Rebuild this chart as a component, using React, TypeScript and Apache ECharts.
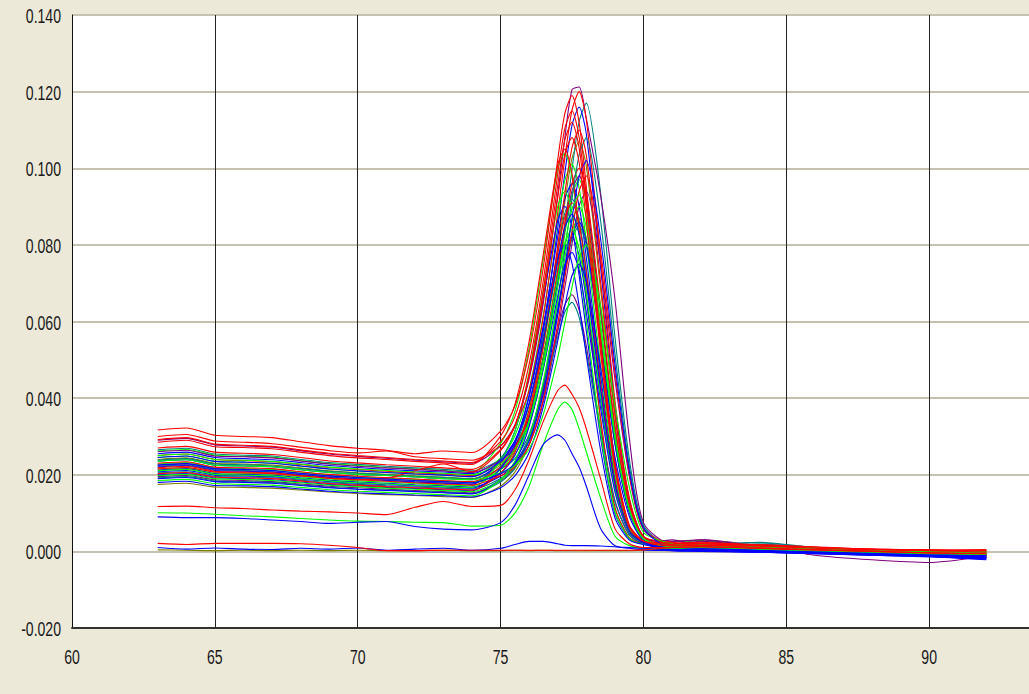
import { useEffect, useRef } from "react";
import * as echarts from "echarts";

// Melt-curve derivative traces (-dF/dT) sampled at these temperatures (°C)
const temps = [
  63, 64, 65, 66, 67, 68, 69, 70, 71, 72, 73, 74, 75, 75.5, 76, 76.5, 77, 77.25,
  77.5, 77.75, 78, 78.5, 79, 79.5, 80, 81, 82, 84, 86, 88, 90, 92,
];

// Tick labels
const xTicks = [60, 65, 70, 75, 80, 85, 90];
const yTicks = [-0.02, 0, 0.02, 0.04, 0.06, 0.08, 0.1, 0.12, 0.14];

const redCurves: number[][] = [
  [0.0317,0.0322,0.0303,0.0300,0.0297,0.0286,0.0276,0.0269,0.0264,0.0255,0.0262,0.0258,0.0314,0.0379,0.0519,0.0743,0.1022,0.1143,0.1190,0.1119,0.0952,0.0571,0.0238,0.0070,0.0028,0.0015,0.0014,0.0012,0.0006,0.0002,-0.0002,-0.0006],
  [0.0300,0.0305,0.0288,0.0285,0.0281,0.0272,0.0263,0.0257,0.0262,0.0247,0.0242,0.0238,0.0276,0.0325,0.0421,0.0613,0.0883,0.1027,0.1152,0.1200,0.1128,0.0768,0.0396,0.0142,0.0040,0.0020,0.0018,0.0015,0.0010,0.0006,0.0004,0.0002],
  [0.0285,0.0290,0.0273,0.0271,0.0268,0.0259,0.0250,0.0244,0.0240,0.0235,0.0231,0.0227,0.0301,0.0383,0.0548,0.0778,0.1009,0.1050,0.0987,0.0840,0.0672,0.0347,0.0116,0.0036,0.0021,0.0012,0.0016,0.0010,0.0008,0.0003,0.0000,-0.0004],
  [0.0250,0.0254,0.0240,0.0237,0.0234,0.0227,0.0219,0.0214,0.0209,0.0205,0.0202,0.0198,0.0230,0.0270,0.0350,0.0511,0.0735,0.0856,0.0960,0.1000,0.0940,0.0640,0.0330,0.0120,0.0035,0.0018,0.0022,0.0014,0.0008,0.0004,0.0002,0.0004],
  [0.0230,0.0234,0.0220,0.0218,0.0216,0.0208,0.0201,0.0196,0.0193,0.0189,0.0185,0.0182,0.0219,0.0265,0.0356,0.0540,0.0797,0.0935,0.1054,0.1100,0.1034,0.0704,0.0363,0.0131,0.0038,0.0024,0.0020,0.0018,0.0011,0.0005,0.0003,0.0001],
  [0.0218,0.0222,0.0209,0.0207,0.0205,0.0198,0.0191,0.0187,0.0183,0.0179,0.0176,0.0173,0.0197,0.0221,0.0278,0.0399,0.0593,0.0714,0.0835,0.0940,0.0980,0.0784,0.0470,0.0206,0.0059,0.0020,0.0024,0.0016,0.0008,0.0006,0.0003,0.0005],
  [0.0203,0.0206,0.0194,0.0192,0.0190,0.0184,0.0177,0.0173,0.0169,0.0166,0.0163,0.0160,0.0205,0.0258,0.0370,0.0550,0.0775,0.0873,0.0910,0.0855,0.0728,0.0437,0.0182,0.0056,0.0024,0.0016,0.0020,0.0013,0.0007,0.0004,0.0001,-0.0002],
  [0.0215,0.0219,0.0207,0.0205,0.0203,0.0197,0.0191,0.0187,0.0190,0.0210,0.0228,0.0208,0.0263,0.0327,0.0463,0.0682,0.0956,0.1074,0.1120,0.1053,0.0896,0.0538,0.0224,0.0066,0.0027,0.0022,0.0020,0.0014,0.0012,0.0006,0.0004,0.0002],
  [0.0270,0.0274,0.0259,0.0256,0.0253,0.0245,0.0236,0.0231,0.0226,0.0222,0.0218,0.0214,0.0266,0.0327,0.0456,0.0664,0.0924,0.1037,0.1080,0.1015,0.0864,0.0518,0.0216,0.0064,0.0026,0.0014,0.0016,0.0010,0.0004,0.0000,-0.0004,-0.0008],
  [0.0292,0.0297,0.0280,0.0277,0.0274,0.0265,0.0256,0.0250,0.0245,0.0240,0.0236,0.0232,0.0287,0.0351,0.0489,0.0709,0.0985,0.1104,0.1150,0.1081,0.0920,0.0552,0.0230,0.0068,0.0027,0.0018,0.0016,0.0014,0.0008,0.0004,0.0002,-0.0002],
  [0.0117,0.0118,0.0114,0.0112,0.0108,0.0105,0.0103,0.0100,0.0096,0.0115,0.0130,0.0117,0.0120,0.0160,0.0240,0.0340,0.0420,0.0434,0.0410,0.0375,0.0320,0.0190,0.0060,0.0020,0.0010,0.0010,0.0012,0.0008,0.0004,0.0000,-0.0004,-0.0006],
  [0.0021,0.0018,0.0021,0.0021,0.0021,0.0020,0.0016,0.0010,0.0002,0.0002,0.0003,0.0003,0.0003,0.0003,0.0003,0.0003,0.0003,0.0003,0.0003,0.0003,0.0003,0.0003,0.0003,0.0003,0.0004,0.0010,0.0012,0.0008,0.0004,0.0000,-0.0004,-0.0006],
];

const greenCurves: number[][] = [
  [0.0262,0.0266,0.0251,0.0248,0.0246,0.0237,0.0229,0.0224,0.0219,0.0215,0.0211,0.0207,0.0282,0.0365,0.0532,0.0765,0.0998,0.1040,0.0978,0.0832,0.0666,0.0343,0.0114,0.0036,0.0020,0.0025,0.0028,0.0016,0.0008,0.0003,0.0000,-0.0004],
  [0.0245,0.0249,0.0235,0.0233,0.0230,0.0223,0.0215,0.0210,0.0206,0.0202,0.0199,0.0195,0.0244,0.0301,0.0423,0.0619,0.0863,0.0969,0.1010,0.0949,0.0808,0.0485,0.0202,0.0061,0.0025,0.0022,0.0016,0.0012,0.0009,0.0003,-0.0001,0.0003],
  [0.0228,0.0232,0.0219,0.0216,0.0214,0.0207,0.0200,0.0195,0.0191,0.0188,0.0184,0.0181,0.0213,0.0252,0.0331,0.0489,0.0710,0.0828,0.0931,0.0970,0.0912,0.0621,0.0320,0.0117,0.0034,0.0012,0.0010,0.0010,0.0004,0.0000,-0.0004,-0.0008],
  [0.0215,0.0219,0.0206,0.0204,0.0202,0.0195,0.0189,0.0184,0.0181,0.0177,0.0174,0.0171,0.0214,0.0263,0.0370,0.0540,0.0752,0.0845,0.0880,0.0827,0.0704,0.0422,0.0176,0.0054,0.0023,0.0014,0.0012,0.0009,0.0005,0.0001,-0.0003,-0.0006],
  [0.0210,0.0214,0.0201,0.0199,0.0197,0.0190,0.0184,0.0179,0.0176,0.0172,0.0169,0.0166,0.0236,0.0313,0.0468,0.0685,0.0901,0.0940,0.0884,0.0752,0.0602,0.0310,0.0103,0.0034,0.0019,0.0018,0.0015,0.0011,0.0007,0.0002,0.0000,-0.0003],
  [0.0198,0.0201,0.0190,0.0188,0.0185,0.0179,0.0173,0.0169,0.0165,0.0162,0.0159,0.0156,0.0186,0.0223,0.0297,0.0446,0.0654,0.0766,0.0863,0.0900,0.0846,0.0576,0.0297,0.0109,0.0033,0.0015,0.0013,0.0008,0.0006,0.0001,-0.0004,-0.0002],
  [0.0185,0.0188,0.0177,0.0175,0.0173,0.0167,0.0161,0.0157,0.0154,0.0151,0.0148,0.0145,0.0187,0.0235,0.0340,0.0506,0.0715,0.0805,0.0840,0.0790,0.0672,0.0403,0.0168,0.0052,0.0023,0.0016,0.0018,0.0012,0.0008,0.0004,0.0000,-0.0004],
  [0.0235,0.0239,0.0225,0.0223,0.0221,0.0213,0.0206,0.0201,0.0198,0.0194,0.0190,0.0187,0.0205,0.0224,0.0267,0.0359,0.0506,0.0598,0.0690,0.0769,0.0800,0.0640,0.0384,0.0170,0.0050,0.0020,0.0014,0.0010,0.0006,0.0002,-0.0002,0.0000],
  [0.0250,0.0254,0.0240,0.0238,0.0235,0.0228,0.0220,0.0215,0.0211,0.0207,0.0204,0.0200,0.0229,0.0266,0.0339,0.0485,0.0689,0.0799,0.0894,0.0930,0.0874,0.0595,0.0307,0.0112,0.0033,0.0012,0.0016,0.0012,0.0006,0.0002,-0.0002,-0.0004],
  [0.0101,0.0100,0.0097,0.0093,0.0090,0.0086,0.0082,0.0079,0.0078,0.0076,0.0075,0.0066,0.0068,0.0100,0.0170,0.0280,0.0370,0.0390,0.0370,0.0320,0.0260,0.0140,0.0040,0.0015,0.0008,0.0008,0.0010,0.0006,0.0002,-0.0002,-0.0006,-0.0008],
];

const blueCurves: number[][] = [
  [0.0255,0.0259,0.0245,0.0242,0.0239,0.0232,0.0224,0.0219,0.0214,0.0210,0.0207,0.0203,0.0241,0.0289,0.0385,0.0576,0.0844,0.0988,0.1112,0.1160,0.1090,0.0742,0.0383,0.0138,0.0039,0.0010,0.0012,0.0008,0.0003,-0.0002,-0.0006,-0.0010],
  [0.0235,0.0239,0.0225,0.0223,0.0221,0.0213,0.0206,0.0201,0.0198,0.0194,0.0190,0.0187,0.0233,0.0287,0.0403,0.0589,0.0821,0.0921,0.0960,0.0902,0.0768,0.0461,0.0192,0.0058,0.0024,0.0005,0.0002,-0.0002,-0.0005,-0.0010,-0.0014,-0.0020],
  [0.0220,0.0224,0.0211,0.0209,0.0207,0.0200,0.0193,0.0189,0.0185,0.0181,0.0178,0.0175,0.0240,0.0313,0.0458,0.0661,0.0864,0.0900,0.0846,0.0720,0.0576,0.0297,0.0099,0.0033,0.0019,0.0008,0.0005,0.0003,0.0001,-0.0004,-0.0008,-0.0015],
  [0.0212,0.0216,0.0203,0.0201,0.0199,0.0192,0.0186,0.0181,0.0178,0.0174,0.0171,0.0168,0.0196,0.0230,0.0299,0.0438,0.0632,0.0735,0.0825,0.0860,0.0808,0.0550,0.0284,0.0105,0.0032,0.0006,0.0004,0.0002,-0.0002,-0.0008,-0.0012,-0.0018],
  [0.0208,0.0211,0.0199,0.0197,0.0195,0.0189,0.0182,0.0178,0.0174,0.0171,0.0168,0.0165,0.0204,0.0250,0.0348,0.0506,0.0702,0.0787,0.0820,0.0771,0.0656,0.0394,0.0164,0.0051,0.0022,0.0010,0.0008,0.0006,0.0002,-0.0003,-0.0007,-0.0011],
  [0.0200,0.0203,0.0192,0.0190,0.0187,0.0181,0.0175,0.0171,0.0167,0.0164,0.0161,0.0158,0.0216,0.0280,0.0408,0.0588,0.0768,0.0800,0.0752,0.0640,0.0512,0.0264,0.0088,0.0030,0.0018,0.0004,0.0002,0.0000,-0.0004,-0.0008,-0.0012,-0.0020],
  [0.0190,0.0193,0.0182,0.0180,0.0178,0.0172,0.0166,0.0162,0.0159,0.0156,0.0153,0.0150,0.0188,0.0232,0.0326,0.0478,0.0667,0.0749,0.0780,0.0733,0.0624,0.0374,0.0156,0.0049,0.0022,0.0006,0.0003,0.0004,0.0000,-0.0006,-0.0010,-0.0016],
  [0.0180,0.0183,0.0172,0.0171,0.0169,0.0163,0.0157,0.0153,0.0150,0.0147,0.0145,0.0142,0.0166,0.0197,0.0258,0.0379,0.0549,0.0641,0.0720,0.0750,0.0705,0.0480,0.0248,0.0093,0.0029,0.0002,0.0000,-0.0002,-0.0006,-0.0010,-0.0014,-0.0022],
  [0.0225,0.0229,0.0216,0.0214,0.0211,0.0204,0.0197,0.0193,0.0189,0.0185,0.0182,0.0179,0.0204,0.0229,0.0288,0.0414,0.0616,0.0742,0.0869,0.0978,0.1020,0.0816,0.0490,0.0214,0.0061,0.0008,0.0012,0.0006,0.0000,-0.0006,-0.0008,-0.0016],
  [0.0245,0.0249,0.0235,0.0233,0.0230,0.0223,0.0215,0.0210,0.0206,0.0202,0.0199,0.0195,0.0236,0.0284,0.0387,0.0551,0.0757,0.0846,0.0880,0.0827,0.0704,0.0422,0.0176,0.0054,0.0023,0.0006,0.0008,0.0004,-0.0002,-0.0006,-0.0010,-0.0014],
  [0.0090,0.0088,0.0088,0.0086,0.0082,0.0078,0.0073,0.0076,0.0078,0.0065,0.0058,0.0056,0.0075,0.0120,0.0200,0.0280,0.0304,0.0290,0.0255,0.0220,0.0170,0.0060,0.0015,0.0010,0.0008,0.0004,0.0002,0.0000,-0.0004,-0.0008,-0.0012,-0.0016],
  [0.0010,0.0006,0.0009,0.0006,0.0005,0.0008,0.0006,0.0009,0.0003,0.0006,0.0008,0.0003,0.0008,0.0018,0.0026,0.0026,0.0020,0.0016,0.0015,0.0015,0.0015,0.0014,0.0012,0.0008,0.0004,0.0002,0.0000,-0.0002,-0.0006,-0.0010,-0.0012,-0.0018],
];

const purpleCurves: number[][] = [
  [0.0290,0.0295,0.0278,0.0275,0.0272,0.0263,0.0254,0.0248,0.0243,0.0238,0.0234,0.0230,0.0275,0.0330,0.0450,0.0650,0.0930,0.1080,0.1205,0.1212,0.1130,0.0930,0.0660,0.0300,0.0075,0.0018,0.0030,0.0015,-0.0010,-0.0022,-0.0029,-0.0012],
  [0.0225,0.0229,0.0216,0.0214,0.0211,0.0204,0.0197,0.0193,0.0189,0.0185,0.0182,0.0179,0.0202,0.0225,0.0278,0.0392,0.0575,0.0689,0.0803,0.0902,0.0940,0.0752,0.0451,0.0198,0.0057,0.0016,0.0026,0.0012,0.0002,-0.0004,-0.0010,-0.0014],
  [0.0195,0.0198,0.0187,0.0185,0.0182,0.0176,0.0170,0.0166,0.0162,0.0159,0.0156,0.0153,0.0184,0.0220,0.0298,0.0422,0.0577,0.0644,0.0670,0.0630,0.0536,0.0322,0.0134,0.0044,0.0020,0.0030,0.0014,0.0010,0.0004,-0.0004,-0.0008,-0.0012],
  [0.0260,0.0264,0.0249,0.0247,0.0244,0.0236,0.0228,0.0222,0.0218,0.0214,0.0210,0.0206,0.0237,0.0276,0.0353,0.0508,0.0725,0.0841,0.0941,0.0980,0.0921,0.0627,0.0323,0.0118,0.0035,0.0026,0.0030,0.0014,0.0006,0.0000,-0.0006,-0.0010],
];

const tealCurves: number[][] = [
  [0.0265,0.0269,0.0254,0.0251,0.0249,0.0240,0.0232,0.0227,0.0222,0.0218,0.0214,0.0210,0.0239,0.0268,0.0335,0.0479,0.0709,0.0853,0.0997,0.1122,0.1170,0.0936,0.0562,0.0244,0.0069,0.0012,0.0015,0.0023,0.0008,0.0000,-0.0004,-0.0008],
  [0.0222,0.0226,0.0213,0.0211,0.0208,0.0201,0.0194,0.0190,0.0186,0.0182,0.0179,0.0176,0.0221,0.0273,0.0384,0.0563,0.0786,0.0883,0.0920,0.0865,0.0736,0.0442,0.0184,0.0056,0.0024,0.0010,0.0008,0.0020,0.0006,-0.0002,-0.0006,-0.0009],
  [0.0205,0.0208,0.0196,0.0194,0.0192,0.0186,0.0179,0.0175,0.0171,0.0168,0.0165,0.0162,0.0190,0.0224,0.0293,0.0430,0.0623,0.0726,0.0816,0.0850,0.0799,0.0544,0.0281,0.0104,0.0031,0.0012,0.0014,0.0024,0.0010,0.0002,-0.0002,-0.0006],
  [0.0192,0.0195,0.0184,0.0182,0.0180,0.0174,0.0167,0.0163,0.0160,0.0157,0.0154,0.0151,0.0181,0.0216,0.0291,0.0410,0.0560,0.0625,0.0650,0.0611,0.0520,0.0312,0.0130,0.0043,0.0020,0.0008,0.0010,0.0016,0.0004,-0.0002,-0.0005,-0.0009],
  [0.0238,0.0242,0.0228,0.0226,0.0223,0.0216,0.0209,0.0204,0.0200,0.0196,0.0193,0.0189,0.0216,0.0242,0.0305,0.0438,0.0652,0.0786,0.0920,0.1035,0.1080,0.0864,0.0518,0.0226,0.0064,0.0010,0.0012,0.0018,0.0006,0.0000,-0.0004,-0.0010],
];

const oliveCurves: number[][] = [
  [0.0240,0.0244,0.0230,0.0228,0.0225,0.0218,0.0210,0.0205,0.0201,0.0197,0.0194,0.0190,0.0225,0.0269,0.0357,0.0533,0.0780,0.0912,0.1026,0.1070,0.1006,0.0685,0.0353,0.0128,0.0037,0.0008,0.0006,0.0004,0.0000,-0.0006,-0.0010,-0.0014],
  [0.0175,0.0178,0.0168,0.0167,0.0165,0.0160,0.0155,0.0151,0.0148,0.0146,0.0143,0.0141,0.0170,0.0207,0.0280,0.0425,0.0629,0.0739,0.0834,0.0870,0.0818,0.0557,0.0287,0.0106,0.0032,0.0010,0.0006,0.0004,0.0000,-0.0004,-0.0008,-0.0012],
  [0.0004,0.0003,0.0002,0.0003,0.0002,0.0003,0.0002,0.0003,0.0002,0.0002,0.0003,0.0002,0.0002,0.0003,0.0002,0.0003,0.0002,0.0002,0.0002,0.0002,0.0002,0.0002,0.0002,0.0002,0.0003,0.0006,0.0004,0.0002,-0.0002,-0.0006,-0.0010,-0.0012],
];

// Trace colours per well group; traces are drawn interleaved so colours mix
const groups: { color: string; curves: number[][] }[] = [
  { color: "#808000", curves: oliveCurves },
  { color: "#008080", curves: tealCurves },
  { color: "#800080", curves: purpleCurves },
  { color: "#0000FF", curves: blueCurves },
  { color: "#00FF00", curves: greenCurves },
  { color: "#FF0000", curves: redCurves },
];

const labelFont = "'Liberation Sans', Arial, sans-serif";
const labelSize = 21;
const labelSquash = 0.67; // narrow tick-label glyphs

export default function App() {
  const ref = useRef<HTMLDivElement>(null);

  useEffect(() => {
    if (!ref.current) return;
    const chart = echarts.init(ref.current, undefined, { renderer: "svg" });

    const series: any[] = [];
    const rounds = Math.max(...groups.map((g) => g.curves.length));
    for (let k = 0; k < rounds; k++) {
      groups.forEach((g) => {
        const vals = g.curves[k];
        if (!vals) return;
        series.push({
          type: "line",
          data: vals.map((v, i) => [temps[i], v]),
          showSymbol: false,
          symbol: "none",
          silent: true,
          smooth: 0.25,
          lineStyle: { color: g.color, width: 1.1 },
          itemStyle: { color: g.color },
        });
      });
    }

    chart.setOption({
      animation: false,
      backgroundColor: "#ECE9D8",
      grid: {
        left: 72,
        right: 0,
        top: 15,
        height: 613,
        show: true,
        backgroundColor: "#FFFFFF",
        borderWidth: 0,
        containLabel: false,
        outerBoundsMode: "none",
      },
      xAxis: {
        type: "value",
        min: 60,
        max: 95,
        interval: 5,
        axisLine: { show: true, onZero: false, lineStyle: { color: "#333333", width: 2 } },
        axisTick: { show: false },
        splitLine: { show: true, lineStyle: { color: "#222222", width: 1 } },
        axisLabel: { show: false },
      },
      yAxis: {
        type: "value",
        min: -0.02,
        max: 0.14,
        interval: 0.02,
        axisLine: { show: true, lineStyle: { color: "#111111", width: 1 } },
        axisTick: { show: false },
        splitLine: { show: true, lineStyle: { color: "#C6C2B2", width: 2 } },
        axisLabel: { show: false },
      },
      series,
    });

    // Tick labels placed through the axis scales, drawn with narrow glyphs
    const bottom = chart.convertToPixel({ gridIndex: 0 }, [60, -0.02]) as number[];
    const left = bottom[0];
    const labels: any[] = [];
    xTicks.forEach((t) => {
      const p = chart.convertToPixel({ gridIndex: 0 }, [t, 0]) as number[];
      labels.push({
        type: "text",
        x: p[0],
        y: bottom[1] + 29,
        scaleX: labelSquash,
        silent: true,
        style: {
          text: String(t),
          fontFamily: labelFont,
          fontSize: labelSize,
          fill: "#1A1A1A",
          align: "center",
          verticalAlign: "middle",
        },
      });
    });
    yTicks.forEach((t) => {
      const p = chart.convertToPixel({ gridIndex: 0 }, [60, t]) as number[];
      labels.push({
        type: "text",
        x: left - 11,
        y: p[1] + 1,
        scaleX: labelSquash,
        silent: true,
        style: {
          text: Math.abs(t) < 1e-9 ? "0.000" : t.toFixed(3),
          fontFamily: labelFont,
          fontSize: labelSize,
          fill: "#1A1A1A",
          align: "right",
          verticalAlign: "middle",
        },
      });
    });
    chart.setOption({ graphic: labels });

    return () => chart.dispose();
  }, []);

  return (
    <div
      style={{
        position: "fixed",
        left: 0,
        top: 0,
        width: 1029,
        height: 694,
        overflow: "hidden",
        background: "#ECE9D8",
      }}
    >
      <div ref={ref} style={{ width: 1072, height: 694 }} />
    </div>
  );
}
